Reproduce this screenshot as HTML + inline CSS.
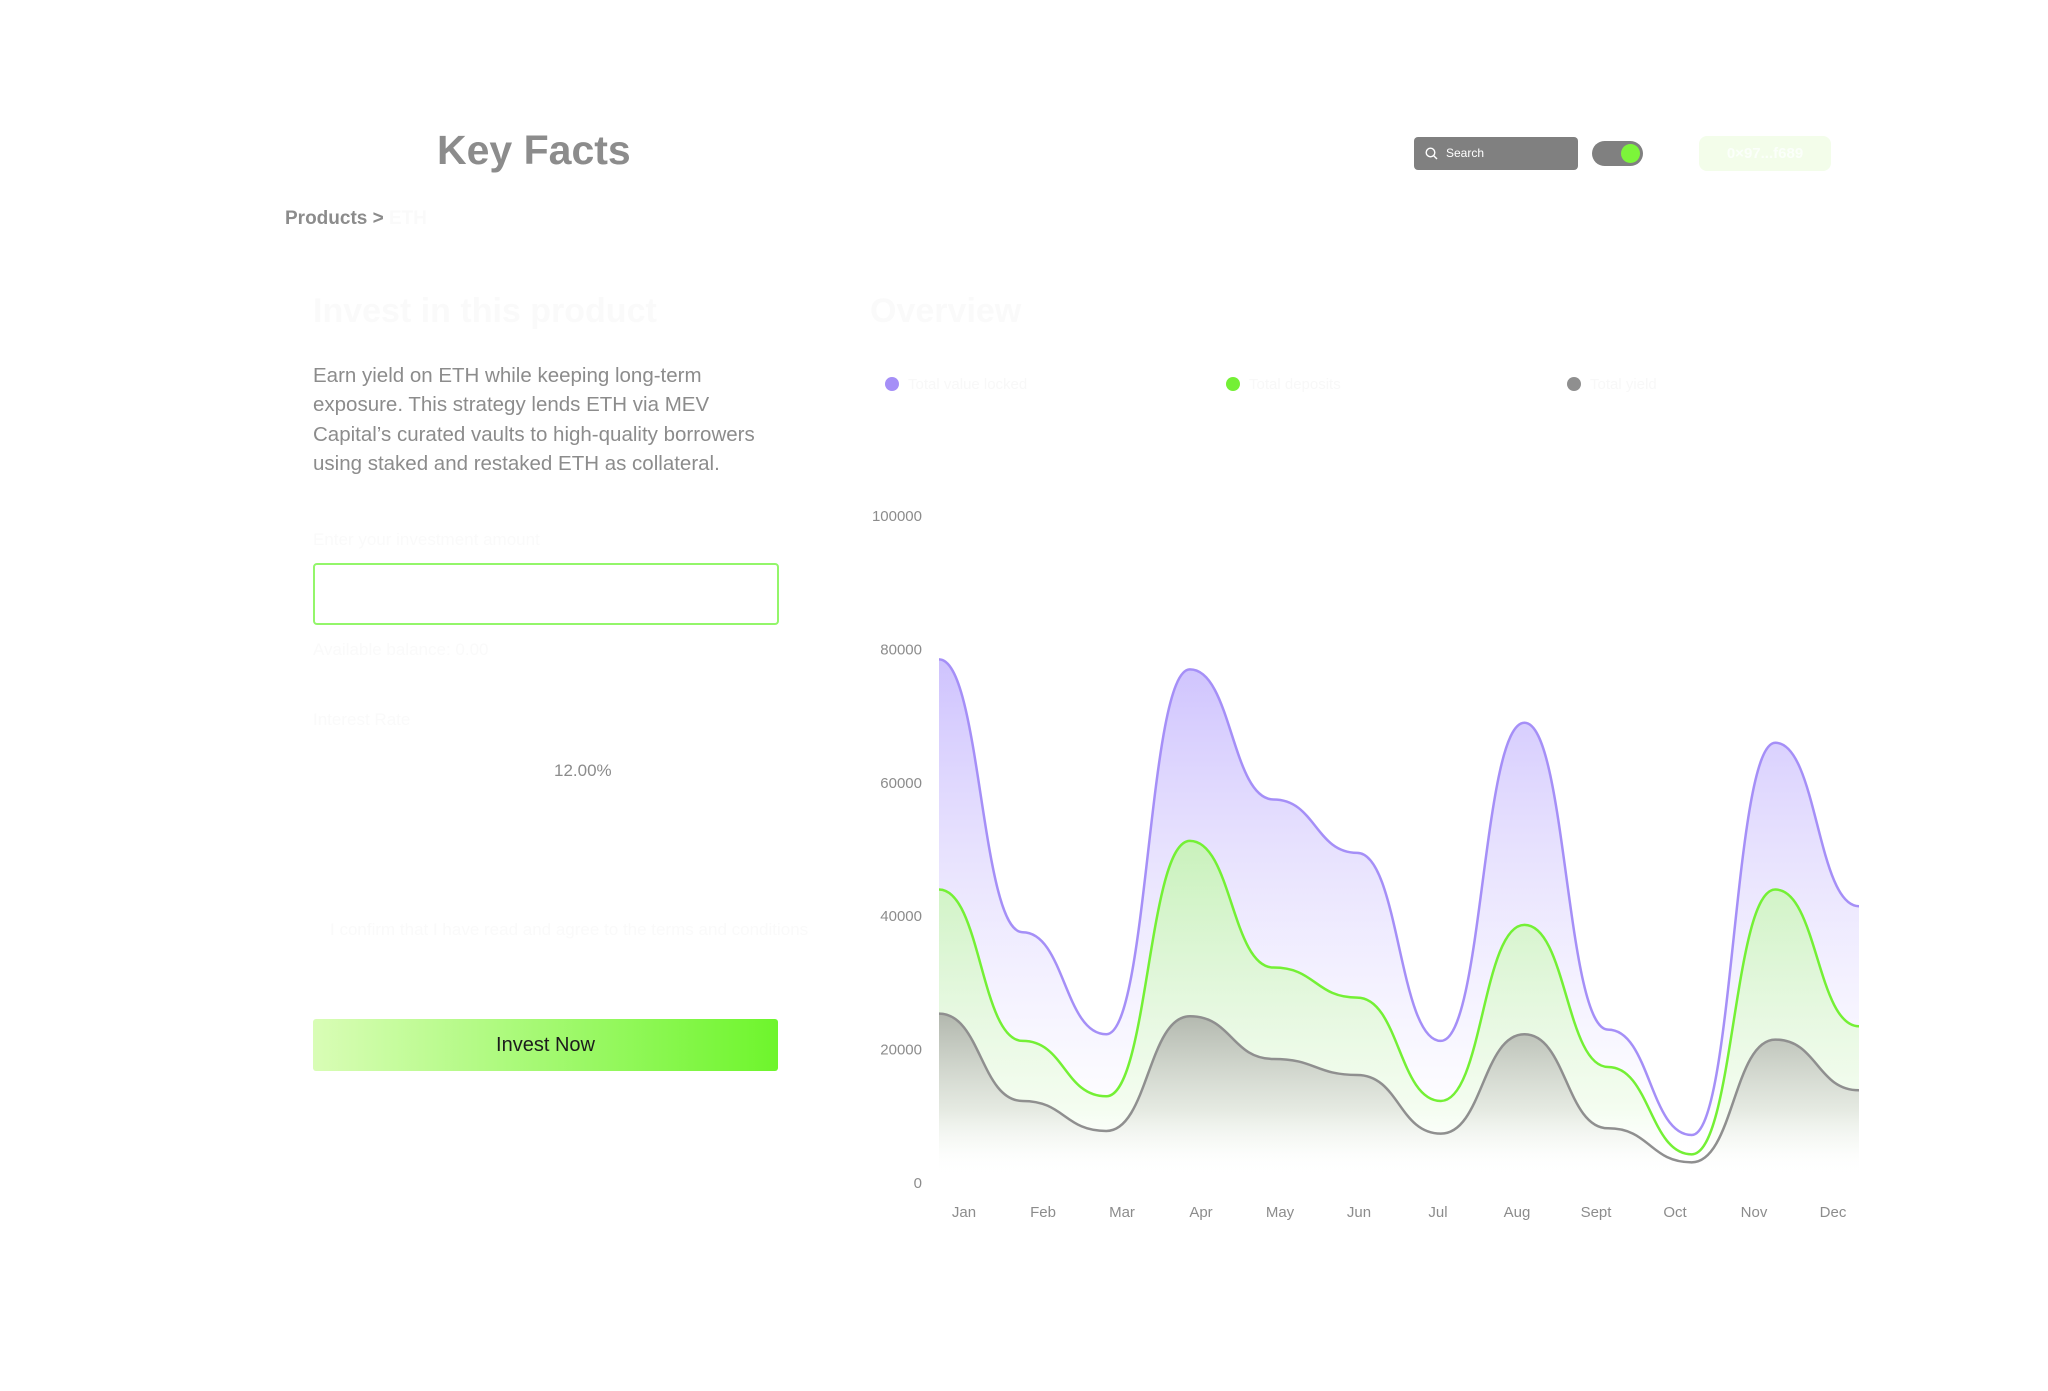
<!DOCTYPE html>
<html><head><meta charset="utf-8">
<style>
html,body{margin:0;padding:0;background:#fff;width:2048px;height:1391px;overflow:hidden;font-family:"Liberation Sans",sans-serif;}
.abs{position:absolute;}
.faint{color:#fafafa;}
</style></head>
<body>
<div class="abs" style="left:437px;top:127px;font-size:41px;font-weight:bold;color:#8c8c8c;">Key Facts</div>
<div class="abs" style="left:285px;top:208px;font-size:19px;font-weight:bold;color:#8c8c8c;">Products &gt; <span class="faint">ETH</span></div>

<div class="abs" style="left:1414px;top:137px;width:164px;height:33px;background:#808080;border-radius:4px;color:#fff;font-size:12px;">
  <svg class="abs" style="left:11px;top:10px" width="13" height="13"><circle cx="5.5" cy="5.5" r="4.3" stroke="#fff" stroke-width="1.4" fill="none"/><line x1="8.6" y1="8.6" x2="12" y2="12" stroke="#fff" stroke-width="1.4"/></svg>
  <span class="abs" style="left:32px;top:9px">Search</span>
</div>
<div class="abs" style="left:1592px;top:141px;width:51px;height:25px;background:#808080;border-radius:13px;">
  <div class="abs" style="left:29px;top:3px;width:19px;height:19px;border-radius:50%;background:#7cf53a;"></div>
</div>
<div class="abs" style="left:1699px;top:136px;width:132px;height:35px;background:#f3fdea;border-radius:8px;color:#fbfffa;font-size:15px;font-weight:bold;line-height:35px;text-align:center;">0×97...f689</div>

<div class="abs faint" style="left:313px;top:292px;font-size:34px;font-weight:bold;">Invest in this product</div>
<div class="abs faint" style="left:870px;top:292px;font-size:34px;font-weight:bold;">Overview</div>
<div class="abs" style="left:313px;top:361px;width:470px;font-size:20.5px;line-height:29.3px;color:#8c8c8c;">Earn yield on ETH while keeping long-term exposure. This strategy lends ETH via MEV Capital’s curated vaults to high-quality borrowers using staked and restaked ETH as collateral.</div>

<div class="abs faint" style="left:313px;top:530px;font-size:17px;">Enter your investment amount</div>
<div class="abs" style="left:313px;top:563px;width:462px;height:58px;border:2px solid #93f66a;border-radius:4px;"></div>
<div class="abs faint" style="left:313px;top:640px;font-size:17px;">Available balance: 0.00</div>
<div class="abs faint" style="left:313px;top:710px;font-size:17px;">Interest Rate</div>
<div class="abs" style="left:554px;top:761px;font-size:17px;color:#8c8c8c;">12.00%</div>
<div class="abs faint" style="left:330px;top:920px;font-size:17px;">I confirm that I have read and agree to the terms and conditions</div>
<div class="abs" style="left:313px;top:1019px;width:465px;height:52px;border-radius:3px;background:linear-gradient(90deg,#d9fdb6,#6ef52c);font-size:20px;color:#1c1c1c;text-align:center;line-height:52px;">Invest Now</div>

<svg class="abs" style="left:0;top:0" width="2048" height="1391" id="chart">
<defs>
<linearGradient id="gP" x1="0" y1="0" x2="0" y2="1"><stop offset="0" stop-color="#c9bcfd" stop-opacity="0.9"/><stop offset="0.75" stop-color="#f2efff" stop-opacity="0.5"/><stop offset="1" stop-color="#fff" stop-opacity="0"/></linearGradient>
<linearGradient id="gG" x1="0" y1="0" x2="0" y2="1"><stop offset="0" stop-color="#c4f5b0" stop-opacity="0.85"/><stop offset="0.8" stop-color="#eefde6" stop-opacity="0.6"/><stop offset="1" stop-color="#fff" stop-opacity="0"/></linearGradient>
<linearGradient id="gK" x1="0" y1="0" x2="0" y2="1"><stop offset="0" stop-color="#a9aca5" stop-opacity="0.85"/><stop offset="0.6" stop-color="#dfe2dc" stop-opacity="0.7"/><stop offset="1" stop-color="#fff" stop-opacity="0"/></linearGradient>
</defs>
</svg>
<script>
const months=["Jan","Feb","Mar","Apr","May","Jun","Jul","Aug","Sept","Oct","Nov","Dec"];
const yTicks=[0,20000,40000,60000,80000,100000];
const purpleValues=[78500,37600,22300,77000,57500,49500,21300,69000,23000,7200,66000,41500];
const greenValues=[44000,21300,13000,51300,32300,27800,12300,38700,17400,4300,44000,23500];
const grayValues=[25400,12300,7800,25000,18600,16200,7400,22300,8200,3100,21500,13900];
const legendNames=["Total value locked","Total deposits","Total yield"];

const svg=document.getElementById('chart');
const NS='http://www.w3.org/2000/svg';
const X0=939,X1=1859,Y0=1183,Y1=516;
const xPt=i=>X0+(X1-X0)*i/(months.length-1);
const yV=v=>Y0-(Y0-Y1)*v/100000;
function mk(t,a){const e=document.createElementNS(NS,t);for(const k in a)e.setAttribute(k,a[k]);svg.appendChild(e);return e;}

yTicks.forEach(v=>{
  const t=mk('text',{x:922,y:yV(v)+5,'text-anchor':'end','font-size':15,fill:'#8c8c8c','font-family':'Liberation Sans, sans-serif'});
  t.textContent=v;
  
  
});
months.forEach((m,i)=>{
  const t=mk('text',{x:964+79*i,y:1217,'text-anchor':'middle','font-size':15,fill:'#8c8c8c','font-family':'Liberation Sans, sans-serif'});
  t.textContent=m;
  
  
});

function smooth(vals){
  const n=vals.length,xs=vals.map((_,i)=>xPt(i)),ys=vals.map(yV);
  let p='M'+xs[0]+','+ys[0];
  for(let i=0;i<n-1;i++){const h=(xs[i+1]-xs[i])*0.5;
    p+=' C'+(xs[i]+h)+','+ys[i]+' '+(xs[i+1]-h)+','+ys[i+1]+' '+xs[i+1]+','+ys[i+1];}
  return p;
}
const series=[[purpleValues,'#a58ff7','gP','purple'],[greenValues,'#74f035','gG','green'],[grayValues,'#8f8f8f','gK','gray']];
series.forEach(([vals,col,g,nm])=>{
  const line=smooth(vals);
  const a=mk('path',{d:line+' L'+X1+','+(Y0-8)+' L'+X0+','+(Y0-8)+' Z',fill:'url(#'+g+')'});
  
  
});
series.forEach(([vals,col,g,nm])=>{
  const l=mk('path',{d:smooth(vals),fill:'none',stroke:col,'stroke-width':2.5});
  
  
});
const lx=[892,1233,1574];
series.forEach(([vals,col,g,nm],i)=>{
  const c=mk('circle',{cx:lx[i],cy:384,r:7,fill:col});
  
  
  const t=mk('text',{x:lx[i]+16,y:389,'font-size':15,fill:'#f8f8f8','font-family':'Liberation Sans, sans-serif'});
  t.textContent=legendNames[i];
  
  
});
</script>
</body></html>
